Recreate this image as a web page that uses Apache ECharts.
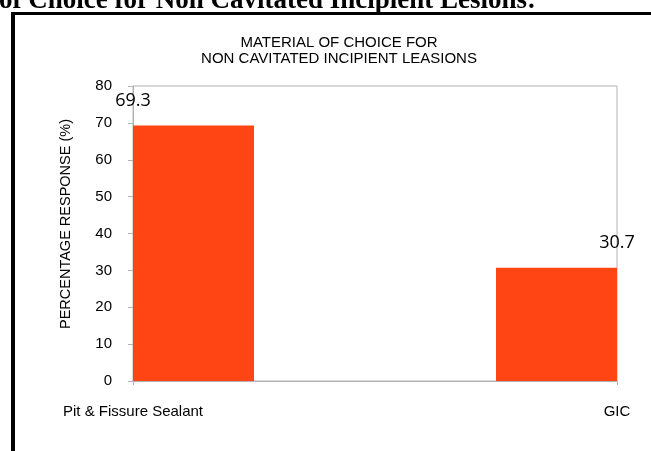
<!DOCTYPE html>
<html>
<head>
<meta charset="utf-8">
<script src="https://cdn.jsdelivr.net/npm/echarts@6/dist/echarts.min.js"></script>
<style>
html,body{margin:0;padding:0;background:#fff;}
#chart{width:651px;height:451px;}
</style>
</head>
<body>
<div id="chart"></div>
<script>
const heading = 'of Choice for Non Cavitated Incipient Lesions:';
const chartTitle = 'MATERIAL OF CHOICE FOR\nNON CAVITATED INCIPIENT LEASIONS';
const yAxisName = 'PERCENTAGE RESPONSE (%)';
const categories = ['Pit & Fissure Sealant', 'GIC'];
const values = [69.3, 30.7];
const yTicks = [0, 10, 20, 30, 40, 50, 60, 70, 80];

// bars occupy the first and last of four equal slots across the plot
const slotCount = categories.length * 2;
const slots = [];
const barData = [];
for (let i = 0; i < slotCount; i++) { slots.push('s' + i); barData.push('-'); }
barData[0] = values[0];
barData[slotCount - 1] = values[values.length - 1];

const gray = '#b3b3b3';
const sans = '"Liberation Sans", Arial, sans-serif';

const chart = echarts.init(document.getElementById('chart'), null, {renderer: 'canvas'});
chart.setOption({
  animation: false,
  backgroundColor: '#fff',
  title: {
    text: chartTitle,
    left: 339, top: 35, textAlign: 'center', padding: 0,
    textStyle: {fontFamily: sans, fontSize: 15, lineHeight: 16, fontWeight: 'normal', color: '#000'}
  },
  grid: {left: 133, right: 34, top: 86, bottom: 70, show: true, borderColor: gray, borderWidth: 1},
  xAxis: [{
    type: 'category', data: categories, boundaryGap: false,
    axisLine: {lineStyle: {color: gray}},
    axisTick: {show: true, length: 4, lineStyle: {color: gray}},
    axisLabel: {margin: 23, fontFamily: sans, fontSize: 15, color: '#000'},
    splitLine: {show: false}
  }, {
    type: 'category', data: slots, boundaryGap: true, show: false
  }],
  yAxis: {
    type: 'value', min: yTicks[0], max: yTicks[yTicks.length - 1], interval: yTicks[1] - yTicks[0],
    axisLine: {show: true, lineStyle: {color: gray}},
    axisTick: {show: true, length: 5, lineStyle: {color: gray}},
    axisLabel: {margin: 21, fontFamily: sans, fontSize: 15, color: '#000'},
    splitLine: {show: false}
  },
  series: [{
    type: 'bar', xAxisIndex: 1, data: barData, barWidth: '100%',
    itemStyle: {color: '#ff4513'}
  }, {
    type: 'scatter', xAxisIndex: 0, data: values, symbolSize: 1, clip: false, z: 5,
    itemStyle: {color: 'rgba(0,0,0,0)'},
    label: {show: true, position: 'top', distance: 15, opacity: 1, textBorderWidth: 0,
      fontFamily: '"Open Sans", sans-serif', fontSize: 18, color: '#000000'}
  }],
  graphic: [
    {type: 'rect', shape: {x: 11, y: 12, width: 640, height: 3}, style: {fill: '#000'}},
    {type: 'rect', shape: {x: 11, y: 12, width: 4, height: 439}, style: {fill: '#000'}},
    {type: 'text', x: -1, y: 1, style: {text: heading, font: 'bold 27px "Liberation Serif", "Times New Roman", serif', fill: '#000', verticalAlign: 'middle', align: 'left'}},
    {type: 'text', x: 66, y: 224, rotation: Math.PI / 2, style: {text: yAxisName, font: '14.5px ' + sans, fill: '#000', align: 'center', verticalAlign: 'middle'}}
  ]
});
</script>
</body>
</html>
